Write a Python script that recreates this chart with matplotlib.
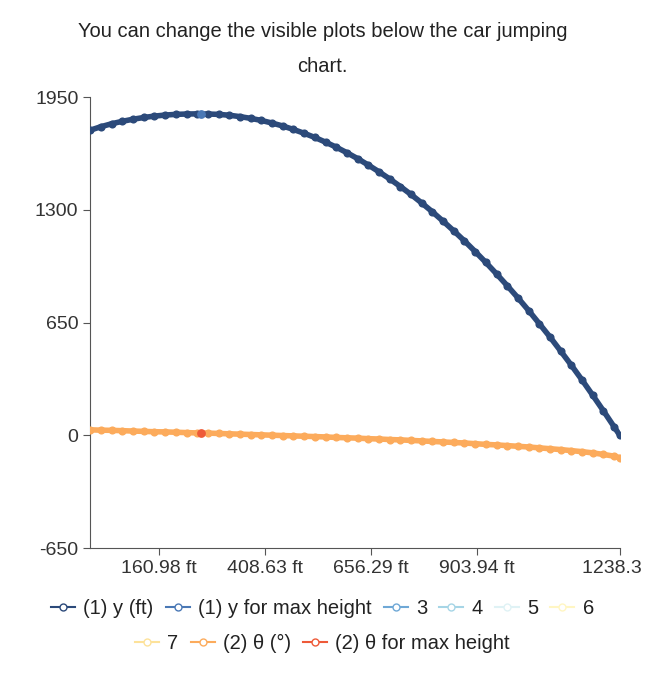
import matplotlib.pyplot as plt
from matplotlib.lines import Line2D

plt.rcParams["font.family"] = "Liberation Sans"
plt.rcParams["axes.unicode_minus"] = False

# horizontal distance (ft)
x_ft = [0, 25, 50, 75, 100, 125, 150, 175, 200, 225, 250, 275, 300, 325, 350,
        375, 400, 425, 450, 475, 500, 525, 550, 575, 600, 625, 650, 675, 700,
        725, 750, 775, 800, 825, 850, 875, 900, 925, 950, 975, 1000, 1025,
        1050, 1075, 1100, 1125, 1150, 1175, 1200, 1225, 1238.3]
# (1) height y (ft)
y_ft = [1760, 1780, 1797, 1811, 1823, 1833, 1841, 1847, 1851, 1853, 1854, 1853,
        1851, 1846, 1838, 1828, 1816, 1801, 1784, 1764, 1742, 1718, 1691, 1662,
        1630, 1596, 1559, 1520, 1479, 1435, 1389, 1340, 1289, 1235, 1179, 1121,
        1060, 997, 931, 863, 793, 720, 644, 567, 486, 404, 319, 231, 141, 49, 0]
# (2) angle theta (deg)
theta = [32, 30, 29, 27, 25, 23, 21, 20, 18, 16, 14, 13, 11, 9, 7, 5, 3, 1, -1,
         -3, -5, -7, -9, -12, -14, -16, -19, -21, -24, -26, -29, -32, -35, -38,
         -41, -44, -48, -52, -55, -59, -63, -67, -72, -77, -82, -88, -94, -101,
         -110, -120, -128]
max_x = [260]
max_y = [1854]
max_theta = [14]

x_ticks = [160.98, 408.63, 656.29, 903.94, 1238.3]
y_ticks = [-650, 0, 650, 1300, 1950]

legend_labels = ["(1) y (ft)", "(1) y for max height", "3", "4", "5", "6",
                 "7", "(2) θ (°)", "(2) θ for max height"]
legend_colors = ["#2c4a7a", "#4a78b5", "#6fa8d6", "#a6d5e6", "#dff2f5",
                 "#fff6c3", "#fde29a", "#fcab5c", "#ee5a38"]

fig = plt.figure(figsize=(6.45, 6.75), dpi=100)
ax = fig.add_axes([0.14, 0.188, 0.821, 0.668])

ax.scatter(x_ft, y_ft, s=34, color=legend_colors[0], zorder=3, linewidths=0)
ax.plot(x_ft, y_ft, color=legend_colors[0], lw=4, zorder=2)
ax.scatter(x_ft, theta, s=34, color=legend_colors[7], zorder=3, linewidths=0)
ax.plot(x_ft, theta, color=legend_colors[7], lw=4, zorder=2)
ax.scatter(max_x, max_y, s=40, color=legend_colors[1], zorder=4, linewidths=0)
ax.scatter(max_x, max_theta, s=40, color=legend_colors[8], zorder=4, linewidths=0)

ax.set_xlim(0, 1238.3)
ax.set_ylim(-650, 1950)
ax.set_xticks(x_ticks)
ax.set_xticklabels([f"{v:g} ft" for v in x_ticks])
ax.set_yticks(y_ticks)
for s in ["top", "right"]:
    ax.spines[s].set_visible(False)
for s in ["left", "bottom"]:
    ax.spines[s].set_color("#555555")
ax.tick_params(colors="#555555", labelsize=14, labelcolor="#333333", length=5)

fig.text(0.5, 0.945, "You can change the visible plots below the car jumping",
         ha="center", fontsize=14.5, color="#222222")
fig.text(0.5, 0.893, "chart.", ha="center", fontsize=14.5, color="#222222")

handles = [Line2D([], [], color=c, marker="o", markerfacecolor="white",
                  markersize=5, lw=1.5) for c in legend_colors]
common = dict(frameon=False, fontsize=14.5, handlelength=1.2, handletextpad=0.4,
              columnspacing=0.6, labelcolor="#222222")
fig.legend(handles[:6], legend_labels[:6], loc="center", ncol=6,
           bbox_to_anchor=(0.5, 0.098), **common)
fig.legend(handles[6:], legend_labels[6:], loc="center", ncol=3,
           bbox_to_anchor=(0.5, 0.047), **common)

fig.savefig("out.png", dpi=100)
